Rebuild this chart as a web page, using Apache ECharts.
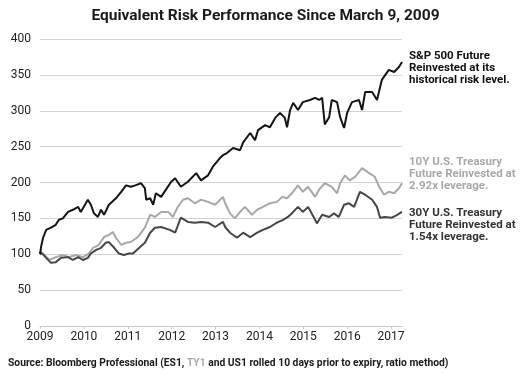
<!DOCTYPE html>
<html>
<head>
<meta charset="utf-8">
<script src="https://cdn.jsdelivr.net/npm/echarts@6/dist/echarts.min.js"></script>
<style>
  html, body { margin: 0; padding: 0; background: #fff; }
  #chart { width: 531px; height: 375px; }
</style>
</head>
<body>
<div id="chart"></div>
<script>
// x values are fractional years
const spxDates = [2009.00, 2009.03, 2009.07, 2009.14, 2009.25, 2009.36, 2009.43, 2009.52, 2009.64, 2009.75,
  2009.87, 2009.93, 2010.09, 2010.16, 2010.23, 2010.32, 2010.39, 2010.46, 2010.57, 2010.73,
  2010.85, 2010.96, 2011.07, 2011.17, 2011.30, 2011.39, 2011.42, 2011.51, 2011.58, 2011.64,
  2011.76, 2011.87, 2011.99, 2012.08, 2012.21, 2012.37, 2012.56, 2012.67, 2012.83, 2012.94,
  2013.10, 2013.17, 2013.26, 2013.40, 2013.56, 2013.63, 2013.79, 2013.90, 2013.97, 2014.13,
  2014.24, 2014.36, 2014.47, 2014.58, 2014.63, 2014.70, 2014.77, 2014.88, 2014.99, 2015.15,
  2015.27, 2015.36, 2015.43, 2015.49, 2015.59, 2015.65, 2015.77, 2015.84, 2015.93, 2016.00,
  2016.11, 2016.27, 2016.34, 2016.41, 2016.57, 2016.68, 2016.79, 2016.95, 2017.07, 2017.18,
  2017.25]
const spxValues = [100, 112, 123, 134, 137, 141, 148, 150, 159, 162,
  166, 159, 176, 169, 157, 152, 162, 155, 169, 178,
  187, 196, 194, 196, 199, 192, 176, 178, 169, 185,
  180, 190, 201, 206, 194, 201, 213, 203, 210, 222,
  234, 238, 241, 248, 245, 256, 269, 259, 273, 280,
  277, 290, 297, 290, 277, 301, 311, 301, 312, 315,
  318, 315, 318, 281, 291, 315, 312, 291, 276, 297,
  312, 315, 301, 326, 326, 315, 343, 357, 354, 361,
  368]

const ty1Dates = [2009.00, 2009.07, 2009.21, 2009.36, 2009.52, 2009.66, 2009.82, 2009.98, 2010.11, 2010.21,
  2010.34, 2010.46, 2010.57, 2010.66, 2010.73, 2010.85, 2010.96, 2011.07, 2011.23, 2011.39,
  2011.51, 2011.62, 2011.76, 2011.92, 2012.03, 2012.14, 2012.26, 2012.37, 2012.53, 2012.67,
  2012.83, 2012.99, 2013.17, 2013.22, 2013.33, 2013.44, 2013.56, 2013.67, 2013.83, 2013.95,
  2014.08, 2014.24, 2014.40, 2014.52, 2014.63, 2014.74, 2014.88, 2014.99, 2015.11, 2015.27,
  2015.36, 2015.49, 2015.65, 2015.77, 2015.84, 2015.95, 2016.06, 2016.18, 2016.34, 2016.50,
  2016.63, 2016.73, 2016.84, 2016.95, 2017.07, 2017.18, 2017.25]
const ty1Values = [100, 101, 92, 96, 99, 96, 99, 96, 101, 109,
  113, 124, 127, 131, 123, 113, 116, 117, 124, 137,
  155, 152, 159, 159, 152, 166, 176, 178, 171, 176,
  173, 169, 180, 171, 157, 150, 159, 166, 155, 162,
  166, 171, 173, 180, 178, 185, 196, 187, 194, 180,
  190, 199, 194, 185, 199, 210, 203, 208, 220, 213,
  208, 194, 183, 187, 185, 192, 199]

const us1Dates = [2009.00, 2009.02, 2009.14, 2009.25, 2009.36, 2009.48, 2009.64, 2009.75, 2009.87, 2009.98,
  2010.09, 2010.16, 2010.28, 2010.39, 2010.50, 2010.57, 2010.69, 2010.80, 2010.91, 2011.03,
  2011.12, 2011.28, 2011.39, 2011.51, 2011.62, 2011.76, 2011.96, 2012.08, 2012.21, 2012.37,
  2012.53, 2012.67, 2012.83, 2012.99, 2013.17, 2013.22, 2013.33, 2013.49, 2013.63, 2013.79,
  2013.95, 2014.08, 2014.24, 2014.40, 2014.54, 2014.65, 2014.77, 2014.88, 2014.99, 2015.11,
  2015.27, 2015.31, 2015.43, 2015.59, 2015.70, 2015.81, 2015.93, 2016.04, 2016.16, 2016.29,
  2016.41, 2016.57, 2016.68, 2016.75, 2016.86, 2017.02, 2017.14, 2017.25]
const us1Values = [100, 103, 95, 88, 89, 95, 96, 92, 96, 92,
  95, 101, 106, 109, 116, 117, 109, 101, 99, 101,
  101, 110, 116, 130, 137, 138, 134, 130, 151, 145,
  144, 145, 144, 138, 145, 138, 130, 123, 130, 124,
  130, 134, 138, 144, 148, 152, 159, 166, 159, 166,
  148, 143, 155, 152, 157, 152, 169, 171, 166, 187,
  183, 176, 166, 151, 152, 151, 155, 159]

const yTicks = [0, 50, 100, 150, 200, 250, 300, 350, 400]
const xTicks = [2009, 2010, 2011, 2012, 2013, 2014, 2015, 2016, 2017]

const pairs = (xs, ys) => xs.map((x, i) => [x, ys[i]])

const chart = echarts.init(document.getElementById('chart'), null, { renderer: 'canvas' })

const labelStyle = {
  fontFamily: 'Roboto',
  fontWeight: 'bold',
  fontSize: 11.5,
  lineHeight: 12
}

chart.setOption({
  backgroundColor: '#fff',
  animation: false,
  title: {
    text: 'Equivalent Risk Performance Since March 9, 2009',
    left: 'center',
    top: 3,
    textStyle: { fontFamily: 'Roboto', fontWeight: 'bold', fontSize: 15.5, color: '#1a1a1a' }
  },
  grid: { left: 40, right: 129, top: 39, bottom: 49 },
  xAxis: {
    type: 'value',
    min: 2009,
    max: 2017.25,
    interval: 1,
    axisLine: { show: true, lineStyle: { color: '#c8c8c8', width: 1 } },
    axisTick: { show: true, length: 3, lineStyle: { color: '#c8c8c8' } },
    splitLine: { show: false },
    axisLabel: {
      margin: 5,
      fontFamily: 'Roboto',
      fontSize: 12,
      color: '#222',
      showMaxLabel: false,
      formatter: v => xTicks.includes(v) ? String(v) : ''
    }
  },
  yAxis: {
    type: 'value',
    min: 0,
    max: 400,
    interval: 50,
    axisLine: { show: false },
    axisTick: { show: false },
    splitLine: { lineStyle: { color: '#d4d4d4', width: 1 } },
    axisLabel: {
      margin: 9,
      fontFamily: 'Roboto',
      fontSize: 12,
      color: '#222',
      formatter: v => yTicks.includes(v) ? String(v) : ''
    }
  },
  series: [
    {
      name: '10Y', type: 'line', showSymbol: false,
      data: pairs(ty1Dates, ty1Values),
      lineStyle: { color: '#a8a8a8', width: 2 }
    },
    {
      name: '30Y', type: 'line', showSymbol: false,
      data: pairs(us1Dates, us1Values),
      lineStyle: { color: '#464646', width: 2 }
    },
    {
      name: 'S&P', type: 'line', showSymbol: false,
      data: pairs(spxDates, spxValues),
      lineStyle: { color: '#151515', width: 2 }
    }
  ],
  graphic: [
    {
      type: 'text', left: 409, top: 50,
      style: Object.assign({ text: 'S&P 500 Future\nReinvested at its\nhistorical risk level.', fill: '#111' }, labelStyle)
    },
    {
      type: 'text', left: 409, top: 156,
      style: Object.assign({ text: '10Y U.S. Treasury\nFuture Reinvested at\n2.92x leverage.', fill: '#a8a8a8' }, labelStyle)
    },
    {
      type: 'text', left: 409, top: 207,
      style: Object.assign({ text: '30Y U.S. Treasury\nFuture Reinvested at\n1.54x leverage.', fill: '#333' }, labelStyle)
    },
    {
      type: 'text', left: 8, top: 358,
      style: {
        text: '{b|Source: Bloomberg Professional (ES1, }{g|TY1}{b| and US1 rolled 10 days prior to expiry, ratio method)}',
        rich: {
          b: { fontFamily: 'Roboto', fontWeight: 'bold', fontSize: 10.3, fill: '#1a1a1a' },
          g: { fontFamily: 'Roboto', fontWeight: 'bold', fontSize: 10.3, fill: '#a8a8a8' }
        }
      }
    }
  ]
})
</script>
</body>
</html>
